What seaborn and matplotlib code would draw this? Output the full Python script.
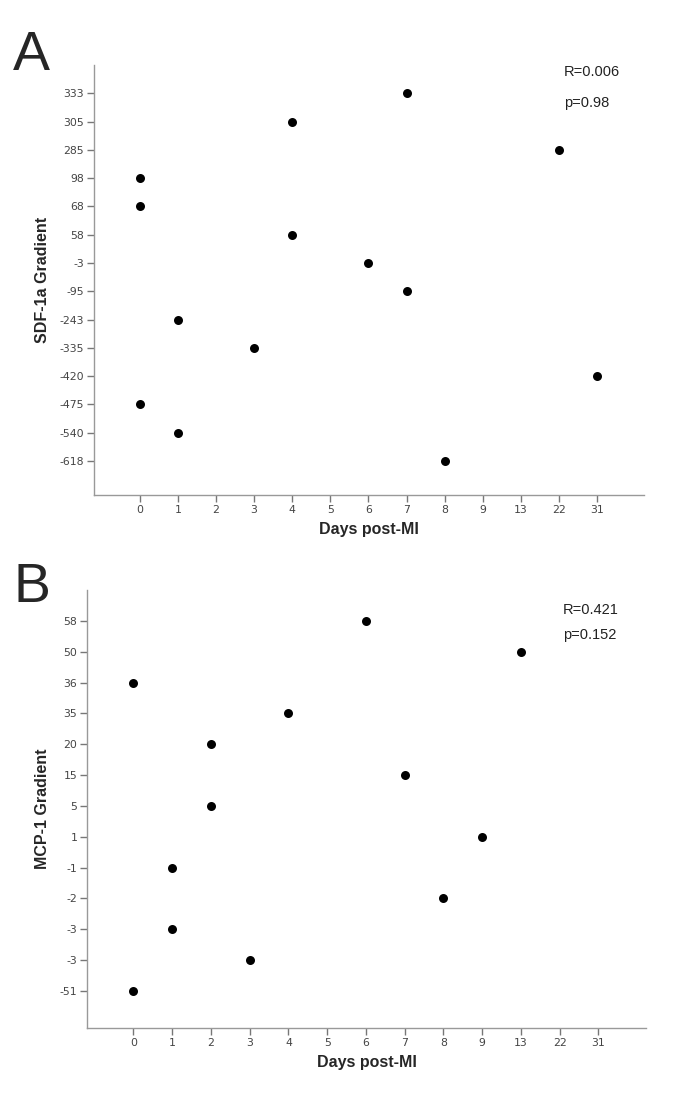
import matplotlib
matplotlib.use("Agg")
import matplotlib.pyplot as plt
import seaborn as sns

# x axis categories (days post-MI), shared by both panels
day_levels = [0, 1, 2, 3, 4, 5, 6, 7, 8, 9, 13, 22, 31]

# panel A: SDF-1a gradient, y categories top to bottom
sdf_levels = ["333", "305", "285", "98", "68", "58", "-3", "-95", "-243",
              "-335", "-420", "-475", "-540", "-618"]
sdf_days = [0, 0, 0, 1, 1, 3, 4, 4, 6, 7, 7, 8, 22, 31]
sdf_vals = ["98", "68", "-475", "-243", "-540", "-335", "305", "58", "-3",
            "333", "-95", "-618", "285", "-420"]

# panel B: MCP-1 gradient (two distinct "-3" categories, so use level codes)
mcp_levels = ["58", "50", "36", "35", "20", "15", "5", "1", "-1", "-2",
              "-3", "-3", "-51"]
mcp_days = [0, 0, 1, 1, 2, 2, 3, 4, 6, 7, 8, 9, 13]
mcp_codes = [2, 12, 8, 10, 4, 6, 11, 3, 0, 5, 9, 7, 1]

stats_a = ["R=0.006", "p=0.98"]
stats_b = ["R=0.421", "p=0.152"]

sns.set_style("white")
plt.rcParams["font.family"] = ["DejaVu Sans"]

W, H = 685, 1109
fig = plt.figure(figsize=(W / 100, H / 100), dpi=100)


def px_ax(l, t, r, b):
    return fig.add_axes([l / W, 1 - b / H, (r - l) / W, (b - t) / H])


def draw(ax, days, ypos, levels, ylabel):
    xpos = [day_levels.index(d) for d in days]
    sns.scatterplot(x=xpos, y=ypos, color="black", s=42, linewidth=0, ax=ax)
    ax.set_xticks(range(len(day_levels)))
    ax.set_xticklabels([str(d) for d in day_levels])
    ax.set_yticks(range(len(levels)))
    ax.set_yticklabels(levels)
    ax.set_xlim(-1.2, len(day_levels) - 1 + 1.23)
    ax.set_ylim(len(levels) - 1 + 1.2, -1.0)
    for s in ["top", "right"]:
        ax.spines[s].set_visible(False)
    for s in ["left", "bottom"]:
        ax.spines[s].set_color("#999999")
        ax.spines[s].set_linewidth(1.0)
    ax.tick_params(axis="both", direction="out", length=5, width=1,
                   color="#777777", labelsize=7.8, labelcolor="#444444", pad=2)
    ax.tick_params(axis="x", bottom=True)
    ax.tick_params(axis="y", left=True)
    ax.set_xlabel("Days post-MI", fontsize=11.5, fontweight="bold",
                  family="Liberation Sans", labelpad=5)
    ax.set_ylabel(ylabel, fontsize=11.5, fontweight="bold",
                  family="Liberation Sans", labelpad=7)


ax_a = px_ax(94, 65, 644, 495)
draw(ax_a, sdf_days, [sdf_levels.index(v) for v in sdf_vals], sdf_levels,
     "SDF-1a Gradient")

ax_b = px_ax(87, 590, 646, 1028)
draw(ax_b, mcp_days, mcp_codes, mcp_levels, "MCP-1 Gradient")

fig.text(13 / W, 1 - 70 / H, "A", fontsize=40, family="Liberation Sans",
         va="baseline", ha="left")
fig.text(13 / W, 1 - 602 / H, "B", fontsize=40, family="Liberation Sans",
         va="baseline", ha="left")

for txt, y in zip(stats_a, [72, 103]):
    fig.text(564 / W, 1 - y / H, txt, fontsize=10.5, family="Liberation Sans",
             ha="left", va="center", color="#222222")
for txt, y in zip(stats_b, [610, 635]):
    fig.text(563 / W, 1 - y / H, txt, fontsize=10.5, family="Liberation Sans",
             ha="left", va="center", color="#222222")

fig.savefig("out.png", dpi=100, facecolor="white")
